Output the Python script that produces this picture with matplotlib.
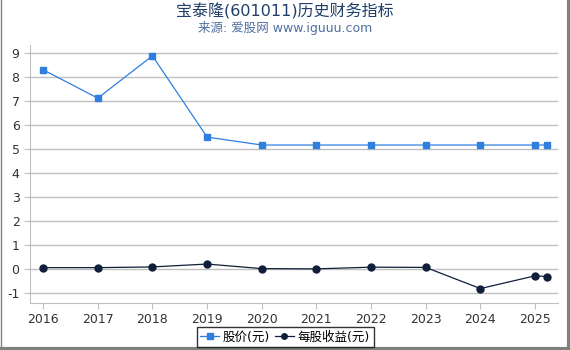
import matplotlib
matplotlib.use("Agg")
import matplotlib.pyplot as plt
from matplotlib.lines import Line2D

plt.rcParams['font.family'] = ['DejaVu Sans', 'Noto Sans CJK SC']
plt.rcParams['axes.unicode_minus'] = False

years = [2016, 2017, 2018, 2019, 2020, 2021, 2022, 2023, 2024, 2025, 2025.22]
price = [8.3, 7.12, 8.88, 5.5, 5.17, 5.17, 5.17, 5.17, 5.17, 5.17, 5.17]
eps = [0.07, 0.07, 0.1, 0.22, 0.03, 0.02, 0.09, 0.08, -0.8, -0.27, -0.3]
tick_years = [2016, 2017, 2018, 2019, 2020, 2021, 2022, 2023, 2024, 2025]
y_ticks = [-1, 0, 1, 2, 3, 4, 5, 6, 7, 8, 9]

fig = plt.figure(figsize=(5.7, 3.5), dpi=100)
ax = fig.add_axes([30 / 570, 1 - 303 / 350, 528 / 570, 258 / 350])

ax.plot(years, price, color="#2f7fdf", lw=0.9, marker="s", ms=5, label="股价(元)")
ax.plot(years, eps, color="#0f1f3a", lw=0.9, marker="o", ms=5, label="每股收益(元)")

ax.set_xlim(2015.76, 2025.42)
ax.set_ylim(-1.4, 9.33)
ax.set_xticks(tick_years)
ax.set_xticklabels([str(y) for y in tick_years])
ax.set_yticks(y_ticks)
ax.grid(axis="y", color="#c0c0c0", lw=1)
ax.set_axisbelow(True)
for s in ["top", "right"]:
    ax.spines[s].set_visible(False)
ax.spines["left"].set_color("#c0c0c0")
ax.spines["bottom"].set_color("#c0c0c0")
ax.tick_params(colors="#c0c0c0", labelcolor="#333333", labelsize=9, length=4)

fig.text(0.5, 1 - 11 / 350, "宝泰隆(601011)历史财务指标", ha="center", va="center",
         fontsize=11.5, color="#1f3f6a")
fig.text(0.5, 1 - 28 / 350, "来源: 爱股网 www.iguuu.com", ha="center", va="center",
         fontsize=9, color="#4f6f9f")

leg = fig.legend(loc="center", bbox_to_anchor=(285 / 570, 1 - 337 / 350), ncol=2,
                 fontsize=9, frameon=True, fancybox=False, handlelength=1.5,
                 handletextpad=0.3, columnspacing=0.4, borderpad=0.3, markerscale=0.8)
leg.get_frame().set_edgecolor("black")
leg.get_frame().set_linewidth(1)

# gray frame on left, right and bottom
fig.add_artist(Line2D([0.5 / 570, 0.5 / 570], [0, 1], transform=fig.transFigure,
                      color="#808080", lw=1))
fig.add_artist(Line2D([1 - 1.5 / 570, 1 - 1.5 / 570], [0, 1], transform=fig.transFigure,
                      color="#808080", lw=3))
fig.add_artist(Line2D([0, 1], [1.5 / 350, 1.5 / 350], transform=fig.transFigure,
                      color="#808080", lw=3))

fig.savefig("out.png", dpi=100)
